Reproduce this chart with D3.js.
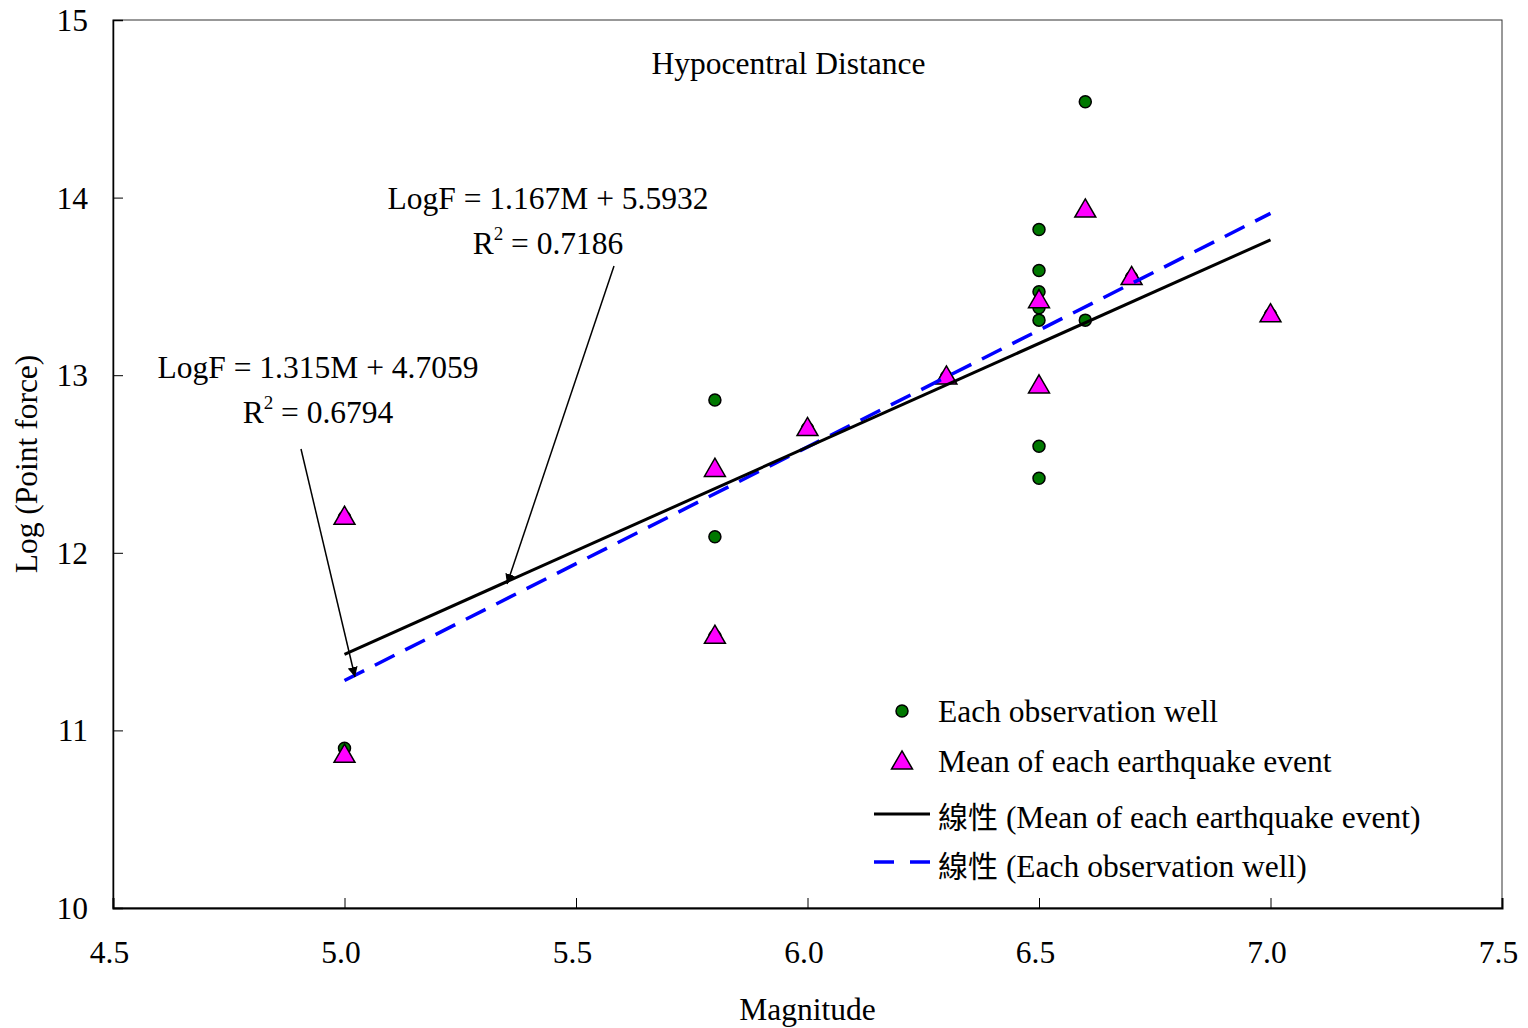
<!DOCTYPE html>
<html>
<head>
<meta charset="utf-8">
<script src="https://cdn.jsdelivr.net/npm/d3@7"></script>
<style>
  body { margin: 0; background: #fff; }
  text { font-family: "Liberation Serif", "Times New Roman", serif; fill: #000; }
  .cjk { font-family: "Noto Sans CJK TC", "Noto Sans CJK SC", sans-serif; }
</style>
</head>
<body>
<svg id="chart" width="1528" height="1028"></svg>
<script>
// observation wells (magnitude, log point force)
const wellMag = [5.0, 5.0, 5.8, 5.8, 5.8, 6.0, 6.3, 6.5, 6.5, 6.5, 6.5, 6.5, 6.5, 6.5, 6.6, 6.6, 6.7, 7.0];
const wellLogF = [10.90, 12.20, 12.86, 12.09, 11.53, 12.70, 12.99, 13.82, 13.59, 13.47, 13.38, 13.31, 12.60, 12.42, 14.54, 13.31, 13.55, 13.34];

// mean of each earthquake event
const eventMag = [5.0, 5.0, 5.8, 5.8, 6.0, 6.3, 6.5, 6.5, 6.6, 6.7, 7.0];
const eventLogF = [12.20, 10.86, 12.47, 11.53, 12.70, 12.99, 13.42, 12.94, 13.93, 13.55, 13.34];

// linear trendlines
const trendRange = [5.0, 7.0];
const meanFit = { slope: 1.167, intercept: 5.5932 };
const wellFit = { slope: 1.315, intercept: 4.7059 };

const xTicks = [4.5, 5.0, 5.5, 6.0, 6.5, 7.0, 7.5];
const yTicks = [10, 11, 12, 13, 14, 15];

const fs = 31.5;
const margin = { top: 20, right: 26, bottom: 120, left: 113 };
const width = 1528 - margin.left - margin.right;
const height = 1028 - margin.top - margin.bottom;

const svg = d3.select('#chart');
const g = svg.append('g').attr('transform', `translate(${margin.left},${margin.top})`);

const x = d3.scaleLinear().domain([4.5, 7.5]).range([0, width]);
const y = d3.scaleLinear().domain([10, 15]).range([height, 0]);

// frame
g.append('rect')
  .attr('width', width).attr('height', height)
  .attr('fill', 'none').attr('stroke', '#333').attr('stroke-width', 1);

// axes, ticks pointing inward
const xAxis = g.append('g')
  .attr('transform', `translate(0,${height})`)
  .call(d3.axisBottom(x).tickValues(xTicks).tickFormat(d3.format('.1f')).tickSize(-10).tickPadding(33));
xAxis.select('.domain').attr('stroke-width', 2);
xAxis.selectAll('text').attr('font-size', fs).attr('dx', -4).style('font-family', '"Liberation Serif", serif');

const yAxis = g.append('g')
  .call(d3.axisLeft(y).tickValues(yTicks).tickFormat(d3.format('d')).tickSize(-10).tickPadding(25));
yAxis.select('.domain').attr('stroke-width', 1.5);
yAxis.selectAll('text').attr('font-size', fs).attr('dy', '0.33em').style('font-family', '"Liberation Serif", serif');

// axis titles
svg.append('text')
  .attr('x', margin.left + x(6.0)).attr('y', 1020)
  .attr('text-anchor', 'middle').attr('font-size', fs)
  .text('Magnitude');
svg.append('text')
  .attr('transform', `translate(37,${margin.top + y(12.5)}) rotate(-90)`)
  .attr('text-anchor', 'middle').attr('font-size', fs)
  .text('Log (Point force)');

g.append('text')
  .attr('x', x(6.0) - 19).attr('y', 54)
  .attr('text-anchor', 'middle').attr('font-size', fs)
  .text('Hypocentral Distance');

// markers
const wells = d3.zip(wellMag, wellLogF);
const events = d3.zip(eventMag, eventLogF);

g.selectAll('.well').data(wells).join('circle')
  .attr('class', 'well')
  .attr('cx', (d) => x(d[0])).attr('cy', (d) => y(d[1]))
  .attr('r', 6)
  .attr('fill', '#007800').attr('stroke', '#000').attr('stroke-width', 1.5);

const tri = d3.symbol().type(d3.symbolTriangle).size(190);
g.selectAll('.event').data(events).join('path')
  .attr('class', 'event')
  .attr('d', tri)
  .attr('transform', (d) => `translate(${x(d[0])},${y(d[1]) + 1})`)
  .attr('fill', '#ff00ff').attr('stroke', '#000').attr('stroke-width', 1.5);

// trendlines
const line = d3.line().x((d) => x(d[0])).y((d) => y(d[1]));
const fitPts = (f) => trendRange.map((m) => [m, f.slope * m + f.intercept]);

g.append('path').datum(fitPts(wellFit)).attr('d', line)
  .attr('fill', 'none').attr('stroke', '#0000ff').attr('stroke-width', 3.5)
  .attr('stroke-dasharray', '22,12');
g.append('path').datum(fitPts(meanFit)).attr('d', line)
  .attr('fill', 'none').attr('stroke', '#000').attr('stroke-width', 3);

// annotations
svg.append('defs').append('marker')
  .attr('id', 'arrow').attr('viewBox', '0 0 10 10')
  .attr('refX', 10).attr('refY', 5)
  .attr('markerWidth', 10).attr('markerHeight', 10)
  .attr('markerUnits', 'userSpaceOnUse')
  .attr('orient', 'auto')
  .append('path').attr('d', 'M0,0L10,5L0,10Z').attr('fill', '#000');

const addLabel = (cx, cy, eq, r2) => {
  svg.append('text').attr('x', cx).attr('y', cy)
    .attr('text-anchor', 'middle').attr('font-size', fs).text(eq);
  const t = svg.append('text').attr('x', cx).attr('y', cy + 45)
    .attr('text-anchor', 'middle').attr('font-size', fs);
  t.append('tspan').text('R');
  t.append('tspan').attr('font-size', 19).attr('dy', -14).text('2');
  t.append('tspan').attr('dy', 14).text(` = ${r2}`);
};
addLabel(548, 209, 'LogF = 1.167M + 5.5932', '0.7186');
addLabel(318, 378, 'LogF = 1.315M + 4.7059', '0.6794');

svg.append('line').attr('x1', 614).attr('y1', 266).attr('x2', 507).attr('y2', 584)
  .attr('stroke', '#000').attr('stroke-width', 1.5).attr('marker-end', 'url(#arrow)');
svg.append('line').attr('x1', 301).attr('y1', 449).attr('x2', 355).attr('y2', 677)
  .attr('stroke', '#000').attr('stroke-width', 1.5).attr('marker-end', 'url(#arrow)');

// legend
const lg = svg.append('g').attr('transform', 'translate(874,711)');
lg.append('circle').attr('cx', 28).attr('cy', 0).attr('r', 6)
  .attr('fill', '#007800').attr('stroke', '#000').attr('stroke-width', 1.5);
lg.append('path').attr('d', tri).attr('transform', 'translate(28,52)')
  .attr('fill', '#ff00ff').attr('stroke', '#000').attr('stroke-width', 1.5);
lg.append('line').attr('x1', 0).attr('x2', 56).attr('y1', 103).attr('y2', 103)
  .attr('stroke', '#000').attr('stroke-width', 3);
lg.append('line').attr('x1', 0).attr('x2', 56).attr('y1', 151).attr('y2', 151)
  .attr('stroke', '#0000ff').attr('stroke-width', 3.5).attr('stroke-dasharray', '20,16');

const legendText = [
  { cjk: '', label: 'Each observation well', yy: 11 },
  { cjk: '', label: 'Mean of each earthquake event', yy: 61 },
  { cjk: '線性', label: ' (Mean of each earthquake event)', yy: 117 },
  { cjk: '線性', label: ' (Each observation well)', yy: 166 },
];
legendText.forEach((d) => {
  const t = lg.append('text').attr('x', 64).attr('y', d.yy).attr('font-size', fs);
  if (d.cjk) t.append('tspan').attr('class', 'cjk').attr('font-size', 30).text(d.cjk);
  t.append('tspan').text(d.label);
});
</script>
</body>
</html>
